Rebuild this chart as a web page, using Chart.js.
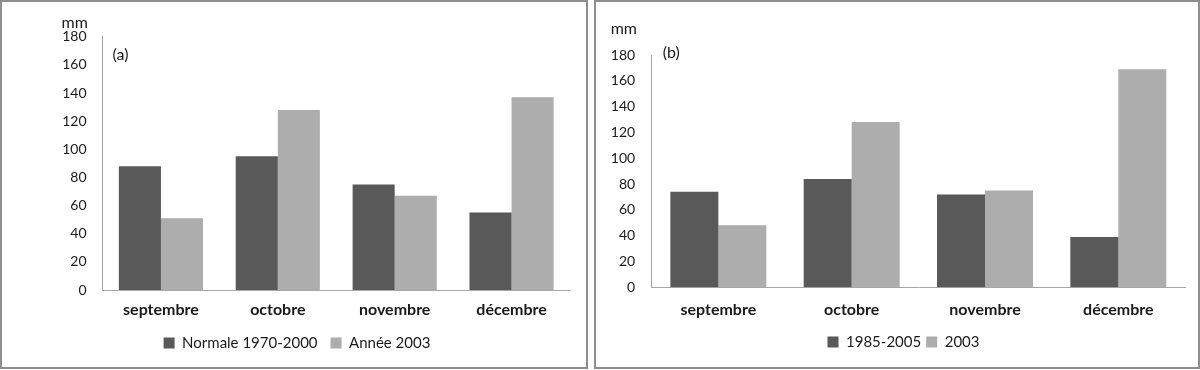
<!DOCTYPE html>
<html>
<head>
<meta charset="utf-8">
<script src="https://cdn.jsdelivr.net/npm/chart.js@4.4.1/dist/chart.umd.min.js"></script>
<style>
  html, body { margin: 0; padding: 0; background: #fff; }
  .box { position: absolute; top: 0; border: 2px solid #8e8e8e; background: #fff; }
  #boxA { left: 0; width: 584px; height: 365px; }
  #boxB { left: 594px; width: 602px; height: 365px; }
  canvas { display: block; }
</style>
</head>
<body>
<div class="box" id="boxA"><canvas id="chartA" width="584" height="365"></canvas></div>
<div class="box" id="boxB"><canvas id="chartB" width="602" height="365"></canvas></div>
<script>
// ---- data ----
const months = ['septembre', 'octobre', 'novembre', 'décembre'];
const yTicks = [0, 20, 40, 60, 80, 100, 120, 140, 160, 180];

const labelA1 = 'Normale 1970-2000';
const labelA2 = 'Année 2003';
const normaleA = [88, 95, 75, 55];
const annee2003A = [51, 128, 67, 137];

const labelB1 = '1985-2005';
const labelB2 = '2003';
const normaleB = [74, 84, 72, 39];
const annee2003B = [48, 128, 75, 169];

const unitLabel = 'mm';
const panelA = '(a)';
const panelB = '(b)';

// ---- styles ----
const DARK = '#595959';
const LIGHT = '#adadad';
const FONT = 'Lato, "Open Sans", sans-serif';
const LEGEND_SIZE = 15;

function annotations(cfg) {
  return {
    id: 'annot',
    afterLayout(chart) {
      // place the legend row at the wanted position
      const lg = chart.legend;
      if (lg) {
        const itemH = Math.max(11, LEGEND_SIZE);
        const h = lg.height;
        lg.top = cfg.legendY - cfg.legendPad - itemH / 2;
        lg.bottom = lg.top + h;
        lg.left += cfg.legendDx;
        lg.right += cfg.legendDx;
      }
    },
    afterDraw(chart) {
      const ctx = chart.ctx;
      ctx.save();
      ctx.fillStyle = '#1a1a1a';
      ctx.textBaseline = 'middle';
      ctx.textAlign = 'left';
      ctx.font = '16px ' + FONT;
      const ys = chart.scales.y;
      const xs = chart.scales.x;
      ctx.fillText(cfg.unit, xs.left + cfg.unitX, ys.top + cfg.unitY);
      ctx.font = '16px ' + FONT;
      ctx.fillText(cfg.panel, xs.left + cfg.panelX, ys.top + cfg.panelY);
      ctx.restore();
    }
  };
}

function makeChart(id, l1, l2, d1, d2, cfg) {
  return new Chart(document.getElementById(id), {
    type: 'bar',
    data: {
      labels: months,
      datasets: [
        { label: l1, data: d1, backgroundColor: DARK, categoryPercentage: 0.72, barPercentage: 1.0 },
        { label: l2, data: d2, backgroundColor: LIGHT, categoryPercentage: 0.72, barPercentage: 1.0 }
      ]
    },
    options: {
      responsive: false,
      animation: false,
      layout: { padding: { top: cfg.top, right: cfg.right, bottom: cfg.bottom, left: 0 } },
      plugins: {
        tooltip: { enabled: false },
        legend: {
          position: 'bottom',
          labels: {
            boxWidth: 11, boxHeight: 11,
            padding: cfg.legendPad,
            color: '#1a1a1a',
            font: { family: FONT, size: LEGEND_SIZE }
          }
        }
      },
      scales: {
        x: {
          grid: { display: false, drawTicks: false },
          border: { display: true, color: '#a6a6a6', width: 1 },
          ticks: { color: '#1a1a1a', padding: cfg.xPad, font: { family: FONT, size: 16, weight: 'bold' } },
          afterFit(s) { s.height = cfg.xh; }
        },
        y: {
          min: 0, max: 180,
          grid: { display: false, drawTicks: false },
          border: { display: true, color: '#a6a6a6', width: 1 },
          afterBuildTicks(s) { s.ticks = yTicks.map(v => ({ value: v })); },
          ticks: { color: '#1a1a1a', padding: cfg.yPad, font: { family: FONT, size: 14 } },
          afterFit(s) { s.width = cfg.yw; }
        }
      }
    },
    plugins: [annotations(cfg)]
  });
}

// canvas height 365; legend height = itemH + pad + 10
makeChart('chartA', labelA1, labelA2, normaleA, annee2003A, {
  top: 34.7, right: 16, legendPad: 13, legendY: 341, legendDx: 11, xh: 40, xPad: 10,
  bottom: 365 - 288 - (15 + 13 + 10) - 40,
  yw: 100.5, yPad: 16,
  unitX: -41, unitY: -14, panelX: 10, panelY: 18, unit: unitLabel, panel: panelA
});

makeChart('chartB', labelB1, labelB2, normaleB, annee2003B, {
  top: 53, right: 13, legendPad: 5, legendY: 340, legendDx: 13, xh: 40, xPad: 13,
  bottom: 365 - 285.3 - (15 + 5 + 10) - 40,
  yw: 55.7, yPad: 16.5,
  unitX: -41, unitY: -26, panelX: 11, panelY: -2, unit: unitLabel, panel: panelB
});
</script>
</body>
</html>
